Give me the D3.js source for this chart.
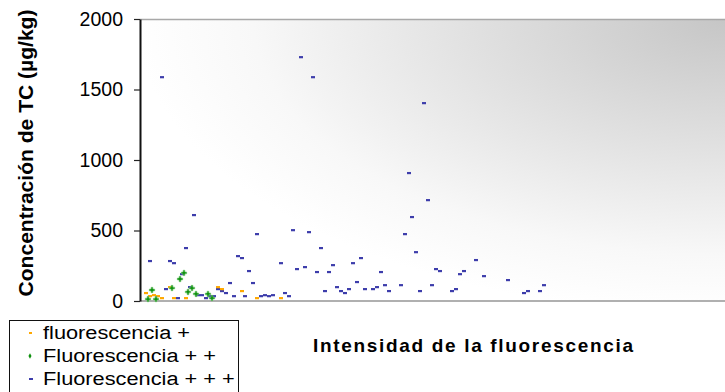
<!DOCTYPE html>
<html>
<head>
<meta charset="utf-8">
<script src="https://cdn.jsdelivr.net/npm/d3@7"></script>
<style>
  html, body { margin: 0; padding: 0; background: #fff; }
  svg { display: block; font-family: Arial, "Liberation Sans", sans-serif; }
</style>
</head>
<body>
<svg id="chart" width="725" height="392"></svg>
<script>
// ---- data (x = intensity index, y = concentration µg/kg) ----
const seriesNames = ["fluorescencia +", "Fluorescencia + +", "Fluorescencia + + +"];
const yTicks = [0, 500, 1000, 1500, 2000];

const fluor1X = [1.5, 2.5, 3.5, 4.5, 5.5, 7.5, 8.5, 11.5, 19.5, 20.5, 25.5, 29.25, 35.25];
const fluor1Y = [57, 35, 42, 35, 21, 99, 21, 21, 99, 85, 71, 21, 21];

const fluor2X = [2, 3, 4, 8, 10, 11, 12, 13, 14, 17, 18];
const fluor2Y = [14, 78, 14, 92, 156, 199, 64, 92, 50, 50, 21];

const fluor3X = [2.5, 5.5, 6.5, 7.5, 8.5, 9.5, 10.5, 11.5, 12.5, 13.5, 14.5, 15.5, 16.5, 17.5, 18.5,
  19.5, 20.5, 21.5, 22.5, 23.5, 24.5, 25.5, 26.25, 27.25, 28.25, 29.25, 30.25, 31.25, 32.25, 33.25,
  35.25, 36.25, 37.25, 38.25, 39.25, 40.25, 41.25, 42.25, 43.25, 44.25, 45.25, 46.25, 47.25, 48.25,
  49.25, 50.25, 51.25, 52.25, 53.25, 54.25, 55.25, 56.25, 58.25, 59.25, 60.25, 61.25, 62.25, 65.25,
  66.25, 67.25, 68, 69, 70, 71, 72, 73, 74, 75, 78, 79, 80, 81, 84, 86, 92, 96, 97, 100, 101];
const fluor3Y = [284, 1588, 85, 284, 269, 21, 191, 376, 99, 610, 42, 42, 21, 35, 35,
  85, 71, 57, 128, 35, 319, 305, 35, 213, 128, 475, 35, 42, 35, 42,
  269, 57, 35, 503, 227, 1730, 241, 489, 1588, 206, 376, 71, 206, 255,
  99, 71, 57, 85, 269, 135, 305, 85, 85, 99, 206, 113, 71, 113,
  475, 908, 596, 347, 71, 1404, 716, 113, 227, 213, 71, 85, 191, 213, 291, 177, 149, 57, 71, 71, 113];

// ---- layout ----
const svg = d3.select("#chart");
const W = 725, H = 392;
const plot = { left: 140, right: 725, top: 19, bottom: 301 };

const x = d3.scaleLinear().domain([0, 146.25]).range([plot.left, plot.right]);
const y = d3.scaleLinear().domain([0, 2000]).range([plot.bottom, plot.top]);

const defs = svg.append("defs");
const grad = defs.append("radialGradient")
  .attr("id", "bg")
  .attr("gradientUnits", "userSpaceOnUse")
  .attr("cx", plot.right).attr("cy", plot.top)
  .attr("fx", plot.right).attr("fy", plot.top)
  .attr("r", 590)
  .attr("gradientTransform", `translate(${plot.right},${plot.top}) scale(1,0.5) translate(${-plot.right},${-plot.top})`);
grad.append("stop").attr("offset", 0).attr("stop-color", "#c6c6c6");
grad.append("stop").attr("offset", 0.45).attr("stop-color", "#e2e2e2");
grad.append("stop").attr("offset", 0.8).attr("stop-color", "#f8f8f8");
grad.append("stop").attr("offset", 1).attr("stop-color", "#ffffff");

svg.append("rect").attr("width", W).attr("height", H).attr("fill", "#fff");
svg.append("rect")
  .attr("x", plot.left).attr("y", plot.top)
  .attr("width", plot.right - plot.left).attr("height", plot.bottom - plot.top)
  .attr("fill", "url(#bg)");

// top border
svg.append("line")
  .attr("x1", plot.left).attr("x2", plot.right)
  .attr("y1", plot.top + 0.5).attr("y2", plot.top + 0.5)
  .attr("stroke", "#a8a8a8").attr("stroke-width", 1.5);

// bottom (x) axis line
svg.append("line")
  .attr("x1", plot.left).attr("x2", plot.right)
  .attr("y1", plot.bottom).attr("y2", plot.bottom)
  .attr("stroke", "#b0b0b0").attr("stroke-width", 2);

// y axis
const yAxis = d3.axisLeft(y).tickValues(yTicks).tickSize(6).tickSizeOuter(0).tickPadding(11)
  .tickFormat(d3.format("d"));
const gy = svg.append("g").attr("transform", `translate(${plot.left},0)`).call(yAxis);
gy.select(".domain").attr("stroke", "#111").attr("stroke-width", 2);
gy.selectAll(".tick line").attr("stroke", "#222").attr("stroke-width", 1.2);
gy.selectAll(".tick text")
  .attr("font-size", 19.5)
  .attr("fill", "#000")
  .attr("font-family", "Arial, 'Liberation Sans', sans-serif");

// ---- marks ----
const s1 = fluor1X.map((v, i) => ({ x: v, y: fluor1Y[i] }));
const s2 = fluor2X.map((v, i) => ({ x: v, y: fluor2Y[i] }));
const s3 = fluor3X.map((v, i) => ({ x: v, y: fluor3Y[i] }));

const colBlue = "#3d3dab", colOrange = "#ffa800", colGreen = "#0e900e";

svg.append("g").selectAll("rect").data(s3).join("rect")
  .attr("x", d => x(d.x) - 2).attr("y", d => y(d.y) - 1)
  .attr("width", 4).attr("height", 2.2)
  .attr("fill", colBlue);

svg.append("g").selectAll("rect").data(s1).join("rect")
  .attr("x", d => x(d.x) - 2).attr("y", d => y(d.y) - 1)
  .attr("width", 4).attr("height", 2.2)
  .attr("fill", colOrange);

const cross = d3.symbol().type(d3.symbolCross).size(16);
svg.append("g").selectAll("path").data(s2).join("path")
  .attr("d", cross)
  .attr("transform", d => `translate(${x(d.x)},${y(d.y)})`)
  .attr("fill", colGreen)
  .attr("stroke", "#72c872").attr("stroke-width", 0.6);

// ---- axis titles ----
svg.append("text")
  .attr("transform", `translate(33,153) rotate(-90)`)
  .attr("text-anchor", "middle")
  .attr("font-weight", "bold")
  .attr("font-size", 19.5)
  .attr("textLength", 287)
  .attr("lengthAdjust", "spacingAndGlyphs")
  .text("Concentración de TC (µg/kg)");

svg.append("text")
  .attr("x", 473).attr("y", 352)
  .attr("text-anchor", "middle")
  .attr("font-weight", "bold")
  .attr("font-size", 19)
  .attr("textLength", 320)
  .attr("lengthAdjust", "spacing")
  .text("Intensidad de la fluorescencia");

// ---- legend ----
const leg = svg.append("g");
leg.append("rect")
  .attr("x", 9.5).attr("y", 320.5).attr("width", 229).attr("height", 80)
  .attr("fill", "#fff").attr("stroke", "#111").attr("stroke-width", 1);

const legRows = [333, 356, 379];
const legColors = [colOrange, colGreen, colBlue];
seriesNames.forEach((name, i) => {
  const cy = legRows[i];
  if (i === 1) {
    leg.append("path").attr("d", d3.symbol().type(d3.symbolDiamond).size(8))
      .attr("transform", `translate(30,${cy})`).attr("fill", colGreen);
  } else {
    leg.append("rect").attr("x", 29).attr("y", cy - 1).attr("width", i === 0 ? 3 : 4).attr("height", 2)
      .attr("fill", legColors[i]);
  }
  leg.append("text")
    .attr("transform", `translate(43,${cy + 6}) scale(1.21,1)`)
    .attr("font-size", 18)
    .attr("fill", "#000")
    .text(name);
});
</script>
</body>
</html>
